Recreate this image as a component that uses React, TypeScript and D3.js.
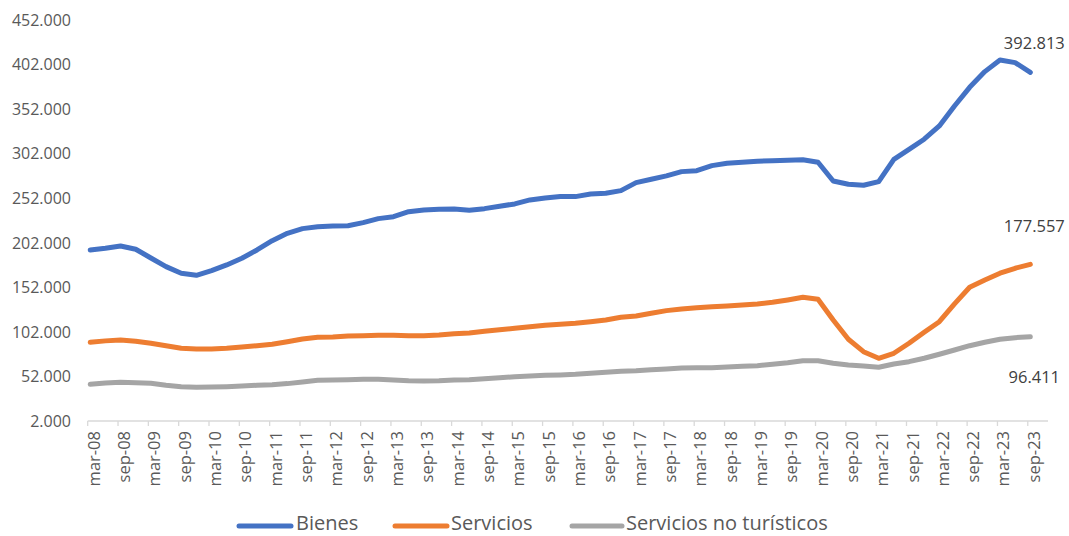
import React from "react";
import * as d3 from "d3";

const W = 1069;
const H = 536;

// Quarterly categories mar-08 .. sep-23
const years = d3.range(8, 24).map((y) => String(y).padStart(2, "0"));
const quarterNames = ["mar", "jun", "sep", "dic"];
const categories: string[] = [];
years.forEach((y) => quarterNames.forEach((m) => categories.push(`${m}-${y}`)));
categories.splice(63);

// Values in thousands
const bienes = [
  193.7, 195.6, 198.2, 194.5, 184.7, 175, 167.5, 165.3, 170.5, 176.9, 184.4, 193.7,
  204.1, 212.4, 217.6, 219.8, 220.6, 220.9, 224.3, 228.8, 231, 236.6, 238.5, 239.3,
  239.6, 238.2, 240, 242.7, 245.3, 249.8, 252, 253.5, 253.5, 256.5, 257.3, 260.2,
  269.2, 273, 276.7, 281.5, 282.6, 288.2, 290.9, 292, 293.1, 293.8, 294.3, 294.9,
  292, 271, 267.3, 266.2, 270.3, 295.3, 306.5, 317.8, 332.7, 355, 376, 393.6,
  406.7, 403.7, 392.813,
];
const servicios = [
  90.2, 91.8, 92.8, 91.3, 89.1, 86.4, 83.5, 82.7, 82.7, 83.5, 85, 86.4,
  88, 90.9, 93.9, 95.8, 96.2, 97.3, 97.6, 98, 98, 97.6, 97.6, 98.4,
  99.9, 100.6, 102.5, 104.3, 105.9, 107.7, 109.3, 110.4, 111.5, 113.3, 115.2, 118.2,
  119.7, 122.7, 125.7, 127.6, 129, 130.1, 130.9, 132, 133.2, 135, 137.7, 140.7,
  138.4, 115.2, 93.6, 79.7, 72.3, 77.9, 89.1, 101.4, 113.3, 133.2, 151.9, 160,
  167.6, 173.2, 177.557,
];
const noTuristicos = [
  43.1, 44.6, 45.4, 45, 44.2, 42, 40.5, 39.8, 40.1, 40.5, 41.2, 42,
  42.7, 43.9, 45.7, 47.6, 48, 48.3, 48.7, 48.7, 48, 47.2, 46.8, 47.2,
  48, 48.3, 49.4, 50.5, 51.7, 52.4, 53.2, 53.6, 54.3, 55.5, 56.6, 57.7,
  58.4, 59.5, 60.3, 61.4, 61.6, 61.8, 62.5, 63.3, 64, 65.6, 67.4, 69.6,
  69.6, 66.7, 64.8, 63.7, 62.2, 65.9, 68.5, 72.3, 76.8, 81.6, 86.4, 90.2,
  93.6, 95.4, 96.411,
];

const yTicks = [2, 52, 102, 152, 202, 252, 302, 352, 402, 452];
const xTickLabels = categories.filter((_, i) => i % 2 === 0);

const seriesNames = ["Bienes", "Servicios", "Servicios no turísticos"];
const seriesColors = ["#4472C4", "#ED7D31", "#A5A5A5"];
const lastLabels = ["392.813", "177.557", "96.411"];

const FONT = "'Open Sans', 'Noto Sans', sans-serif";
const TXT = "#595959";

export default function App() {
  const x = d3.scaleLinear().domain([0, 190]).range([87.7, 1048]);
  const y = d3.scaleLinear().domain([2, 452]).range([421, 19.5]);
  const xPt = (i: number) => x(3 * i + 0.5);

  const line = d3
    .line<number>()
    .x((_, i) => xPt(i))
    .y((d) => y(d));

  const allSeries = [bienes, servicios, noTuristicos];
  const labelOffsets = [-30, -39, 40];

  const legendItems = [
    { x1: 239, x2: 291, tx: 296 },
    { x1: 395, x2: 447, tx: 451 },
    { x1: 572, x2: 622, tx: 626 },
  ];

  return (
    <svg
      width={W}
      height={H}
      style={{ position: "absolute", left: 0, top: 0, background: "#fff" }}
      fontFamily={FONT}
    >
      <rect x={0} y={0} width={W} height={H} fill="#fff" />
      {/* Y axis labels */}
      {yTicks.map((t) => (
        <text
          key={t}
          x={71}
          y={y(t)}
          textAnchor="end"
          dominantBaseline="central"
          fontSize={16}
          fill={TXT}
        >
          {`${t}.000`}
        </text>
      ))}
      {/* X axis */}
      <line x1={x(0)} x2={x(190)} y1={421} y2={421} stroke="#D9D9D9" strokeWidth={1.3} />
      {xTickLabels.map((lab, k) => (
        <g key={lab}>
          <line
            x1={x(6 * k)}
            x2={x(6 * k)}
            y1={421}
            y2={426}
            stroke="#D9D9D9"
            strokeWidth={1.3}
          />
          <text
            transform={`translate(${x(6 * k + 0.5) + 3},${431}) rotate(-90)`}
            textAnchor="end"
            dominantBaseline="central"
            fontSize={16.5}
            fill={TXT}
          >
            {lab}
          </text>
        </g>
      ))}
      {/* Lines */}
      {allSeries.map((s, si) => (
        <path
          key={si}
          d={line(s) || ""}
          fill="none"
          stroke={seriesColors[si]}
          strokeWidth={5}
          strokeLinejoin="round"
          strokeLinecap="round"
        />
      ))}
      {/* End labels */}
      {allSeries.map((s, si) => (
        <text
          key={si}
          x={xPt(s.length - 1) + 4}
          y={y(s[s.length - 1]) + labelOffsets[si]}
          textAnchor="middle"
          dominantBaseline="central"
          fontSize={16.5}
          fill="#404040"
        >
          {lastLabels[si]}
        </text>
      ))}
      {/* Legend */}
      {seriesNames.map((n, i) => (
        <g key={n}>
          <line
            x1={legendItems[i].x1}
            x2={legendItems[i].x2}
            y1={526}
            y2={526}
            stroke={seriesColors[i]}
            strokeWidth={5}
            strokeLinecap="round"
          />
          <text
            x={legendItems[i].tx}
            y={530}
            fontSize={20}
            fill={TXT}
          >
            {n}
          </text>
        </g>
      ))}
    </svg>
  );
}
